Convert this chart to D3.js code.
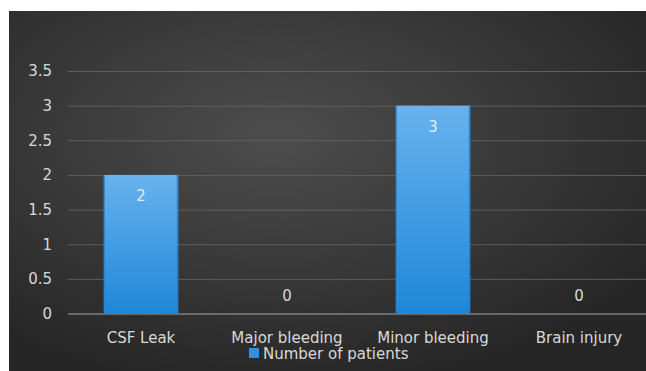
<!DOCTYPE html>
<html>
<head>
<meta charset="utf-8">
<script src="https://cdn.jsdelivr.net/npm/d3@7"></script>
<style>
  html, body { margin: 0; padding: 0; background: #ffffff; }
  svg { display: block; }
</style>
</head>
<body>
<svg id="chart" width="646" height="371"></svg>
<script>
// Complications data
const categories = ["CSF Leak", "Major bleeding", "Minor bleeding", "Brain injury"];
const patients = [2, 0, 3, 0];
const yTicks = [0, 0.5, 1, 1.5, 2, 2.5, 3, 3.5];
const seriesName = "Number of patients";

const W = 646, H = 371;
const svg = d3.select("#chart");
const defs = svg.append("defs");

// Dark panel with a soft radial glow
const bg = defs.append("radialGradient").attr("id", "bgGrad")
  .attr("cx", "42%").attr("cy", "35%").attr("r", "70%");
bg.append("stop").attr("offset", "0%").attr("stop-color", "#4d4d4d");
bg.append("stop").attr("offset", "100%").attr("stop-color", "#262626");

const barGrad = defs.append("linearGradient").attr("id", "barGrad")
  .attr("x1", 0).attr("y1", 0).attr("x2", 0).attr("y2", 1);
barGrad.append("stop").attr("offset", "0%").attr("stop-color", "#68b2ee");
barGrad.append("stop").attr("offset", "100%").attr("stop-color", "#1f87d8");

svg.append("rect").attr("x", 9).attr("y", 11).attr("width", W - 9).attr("height", H - 11)
  .attr("fill", "url(#bgGrad)");

const plot = { left: 68, right: 652, top: 71, bottom: 313.5 };

const x = d3.scaleBand().domain(categories).range([plot.left, plot.right]).paddingInner(0.49).paddingOuter(0.245);
const y = d3.scaleLinear().domain([0, 3.5]).range([plot.bottom, plot.top]);

const labelFont = "'DejaVu Sans', sans-serif";

// Gridlines and y tick labels
const yAxis = d3.axisLeft(y).tickValues(yTicks).tickSize(-(plot.right - plot.left)).tickPadding(16)
  .tickFormat(d3.format("~g"));
const gy = svg.append("g").attr("transform", `translate(${plot.left},0)`).call(yAxis);
gy.select(".domain").remove();
gy.selectAll(".tick line")
  .attr("stroke", d => d === 0 ? "#a6a6a6" : "#5e5e5e")
  .attr("stroke-width", d => d === 0 ? 1.2 : 1);
gy.selectAll(".tick text")
  .attr("fill", "#d9d9d9").attr("font-size", 15)
  .attr("font-family", labelFont);

// Bars
const bars = svg.append("g");
categories.forEach((c, i) => {
  const v = patients[i];
  const bx = x(c), bw = x.bandwidth();
  if (v > 0) {
    bars.append("rect").attr("x", bx).attr("y", y(v)).attr("width", bw).attr("height", y(0) - y(v))
      .attr("fill", "url(#barGrad)");
    bars.append("rect").attr("x", bx).attr("y", y(v)).attr("width", 1.2).attr("height", y(0) - y(v))
      .attr("fill", "#2a7fc4").attr("opacity", 0.8);
    bars.append("rect").attr("x", bx + bw - 1.5).attr("y", y(v)).attr("width", 1.5).attr("height", y(0) - y(v))
      .attr("fill", "#2a7fc4").attr("opacity", 0.8);
  }
  // Value labels: inside the top of a bar, or above the baseline for zero
  bars.append("text")
    .attr("x", bx + bw / 2)
    .attr("y", v > 0 ? y(v) + 26.5 : y(0) - 13)
    .attr("text-anchor", "middle")
    .attr("fill", v > 0 ? "#e0ecf7" : "#d9d9d9")
    .attr("font-size", 15)
    .attr("font-family", labelFont)
    .text(v);
});

// Category labels
const xAxis = d3.axisBottom(x).tickSize(0);
const gx = svg.append("g").attr("transform", `translate(0,${plot.bottom})`).call(xAxis);
gx.select(".domain").remove();
gx.selectAll(".tick text")
  .attr("y", 29).attr("dy", 0)
  .attr("fill", "#d9d9d9").attr("font-size", 15).attr("font-family", labelFont);

// Legend
const legend = svg.append("g").attr("transform", "translate(249,348)");
legend.append("rect").attr("width", 10).attr("height", 10).attr("fill", "#2d93e0");
legend.append("text").attr("x", 14).attr("y", 10.5).attr("fill", "#d9d9d9")
  .attr("font-size", 15).attr("font-family", labelFont).text(seriesName);
</script>
</body>
</html>
